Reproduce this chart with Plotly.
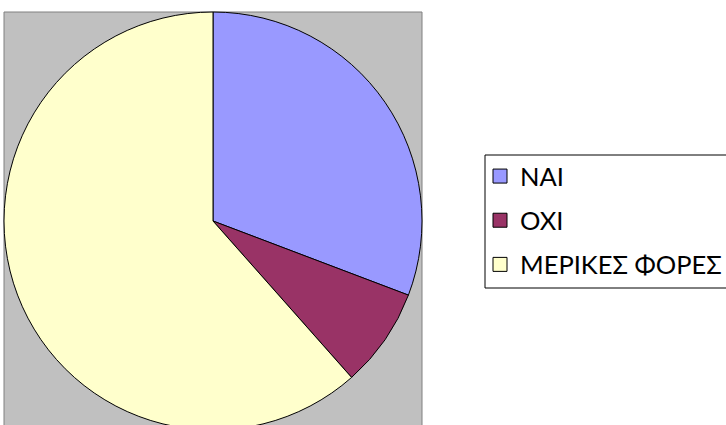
import plotly.graph_objects as go

# Survey answers and their counts
labels = ["ΝΑΙ", "ΟΧΙ", "ΜΕΡΙΚΕΣ ΦΟΡΕΣ"]
counts = [12, 3, 24]
colors = ["#9999FF", "#993366", "#FFFFCC"]

W, H = 726, 430
FONT = "Lato"

fig = go.Figure()

fig.add_trace(go.Pie(
    labels=labels,
    values=counts,
    sort=False,
    direction="clockwise",
    rotation=0,
    marker=dict(colors=colors, line=dict(color="#000000", width=1)),
    textinfo="none",
    hoverinfo="label+value+percent",
    showlegend=False,
    domain=dict(x=[4 / W, 422 / W], y=[0, (H - 12) / H]),
))

# Legend entries (one group each so the rows can be spaced apart)
for lab, col in zip(labels, colors):
    fig.add_trace(go.Scatter(
        x=[None], y=[None], mode="markers", name=lab,
        legendgroup=lab,
        marker=dict(symbol="square", size=14, color=col,
                    line=dict(color="#000000", width=1)),
    ))

fig.update_layout(
    width=W, height=H,
    margin=dict(l=0, r=0, t=0, b=0, autoexpand=False),
    paper_bgcolor="#FFFFFF",
    plot_bgcolor="rgba(0,0,0,0)",
    xaxis=dict(visible=False),
    yaxis=dict(visible=False),
    font=dict(family=FONT, color="#000000"),
    showlegend=True,
    legend=dict(
        x=480 / W, y=(H - 153) / H, xanchor="left", yanchor="top",
        bgcolor="rgba(0,0,0,0)", borderwidth=0,
        font=dict(family=FONT, size=25.5, color="#000000"),
        tracegroupgap=8, traceorder="grouped",
        itemclick=False, itemdoubleclick=False,
    ),
    shapes=[
        # grey plot wall behind the pie
        dict(type="rect", xref="paper", yref="paper",
             x0=4 / W, x1=422 / W, y0=-0.05, y1=(H - 12) / H,
             fillcolor="#C0C0C0", line=dict(color="#808080", width=1),
             layer="below"),
        # legend frame
        dict(type="rect", xref="paper", yref="paper",
             x0=485 / W, x1=1.02, y0=(H - 288) / H, y1=(H - 155) / H,
             fillcolor="rgba(0,0,0,0)", line=dict(color="#000000", width=1),
             layer="below"),
    ],
)

fig.write_html(
    "out.html",
    post_script="document.documentElement.style.overflow='hidden';document.body.style.overflow='hidden';document.body.style.margin='0';",
)
